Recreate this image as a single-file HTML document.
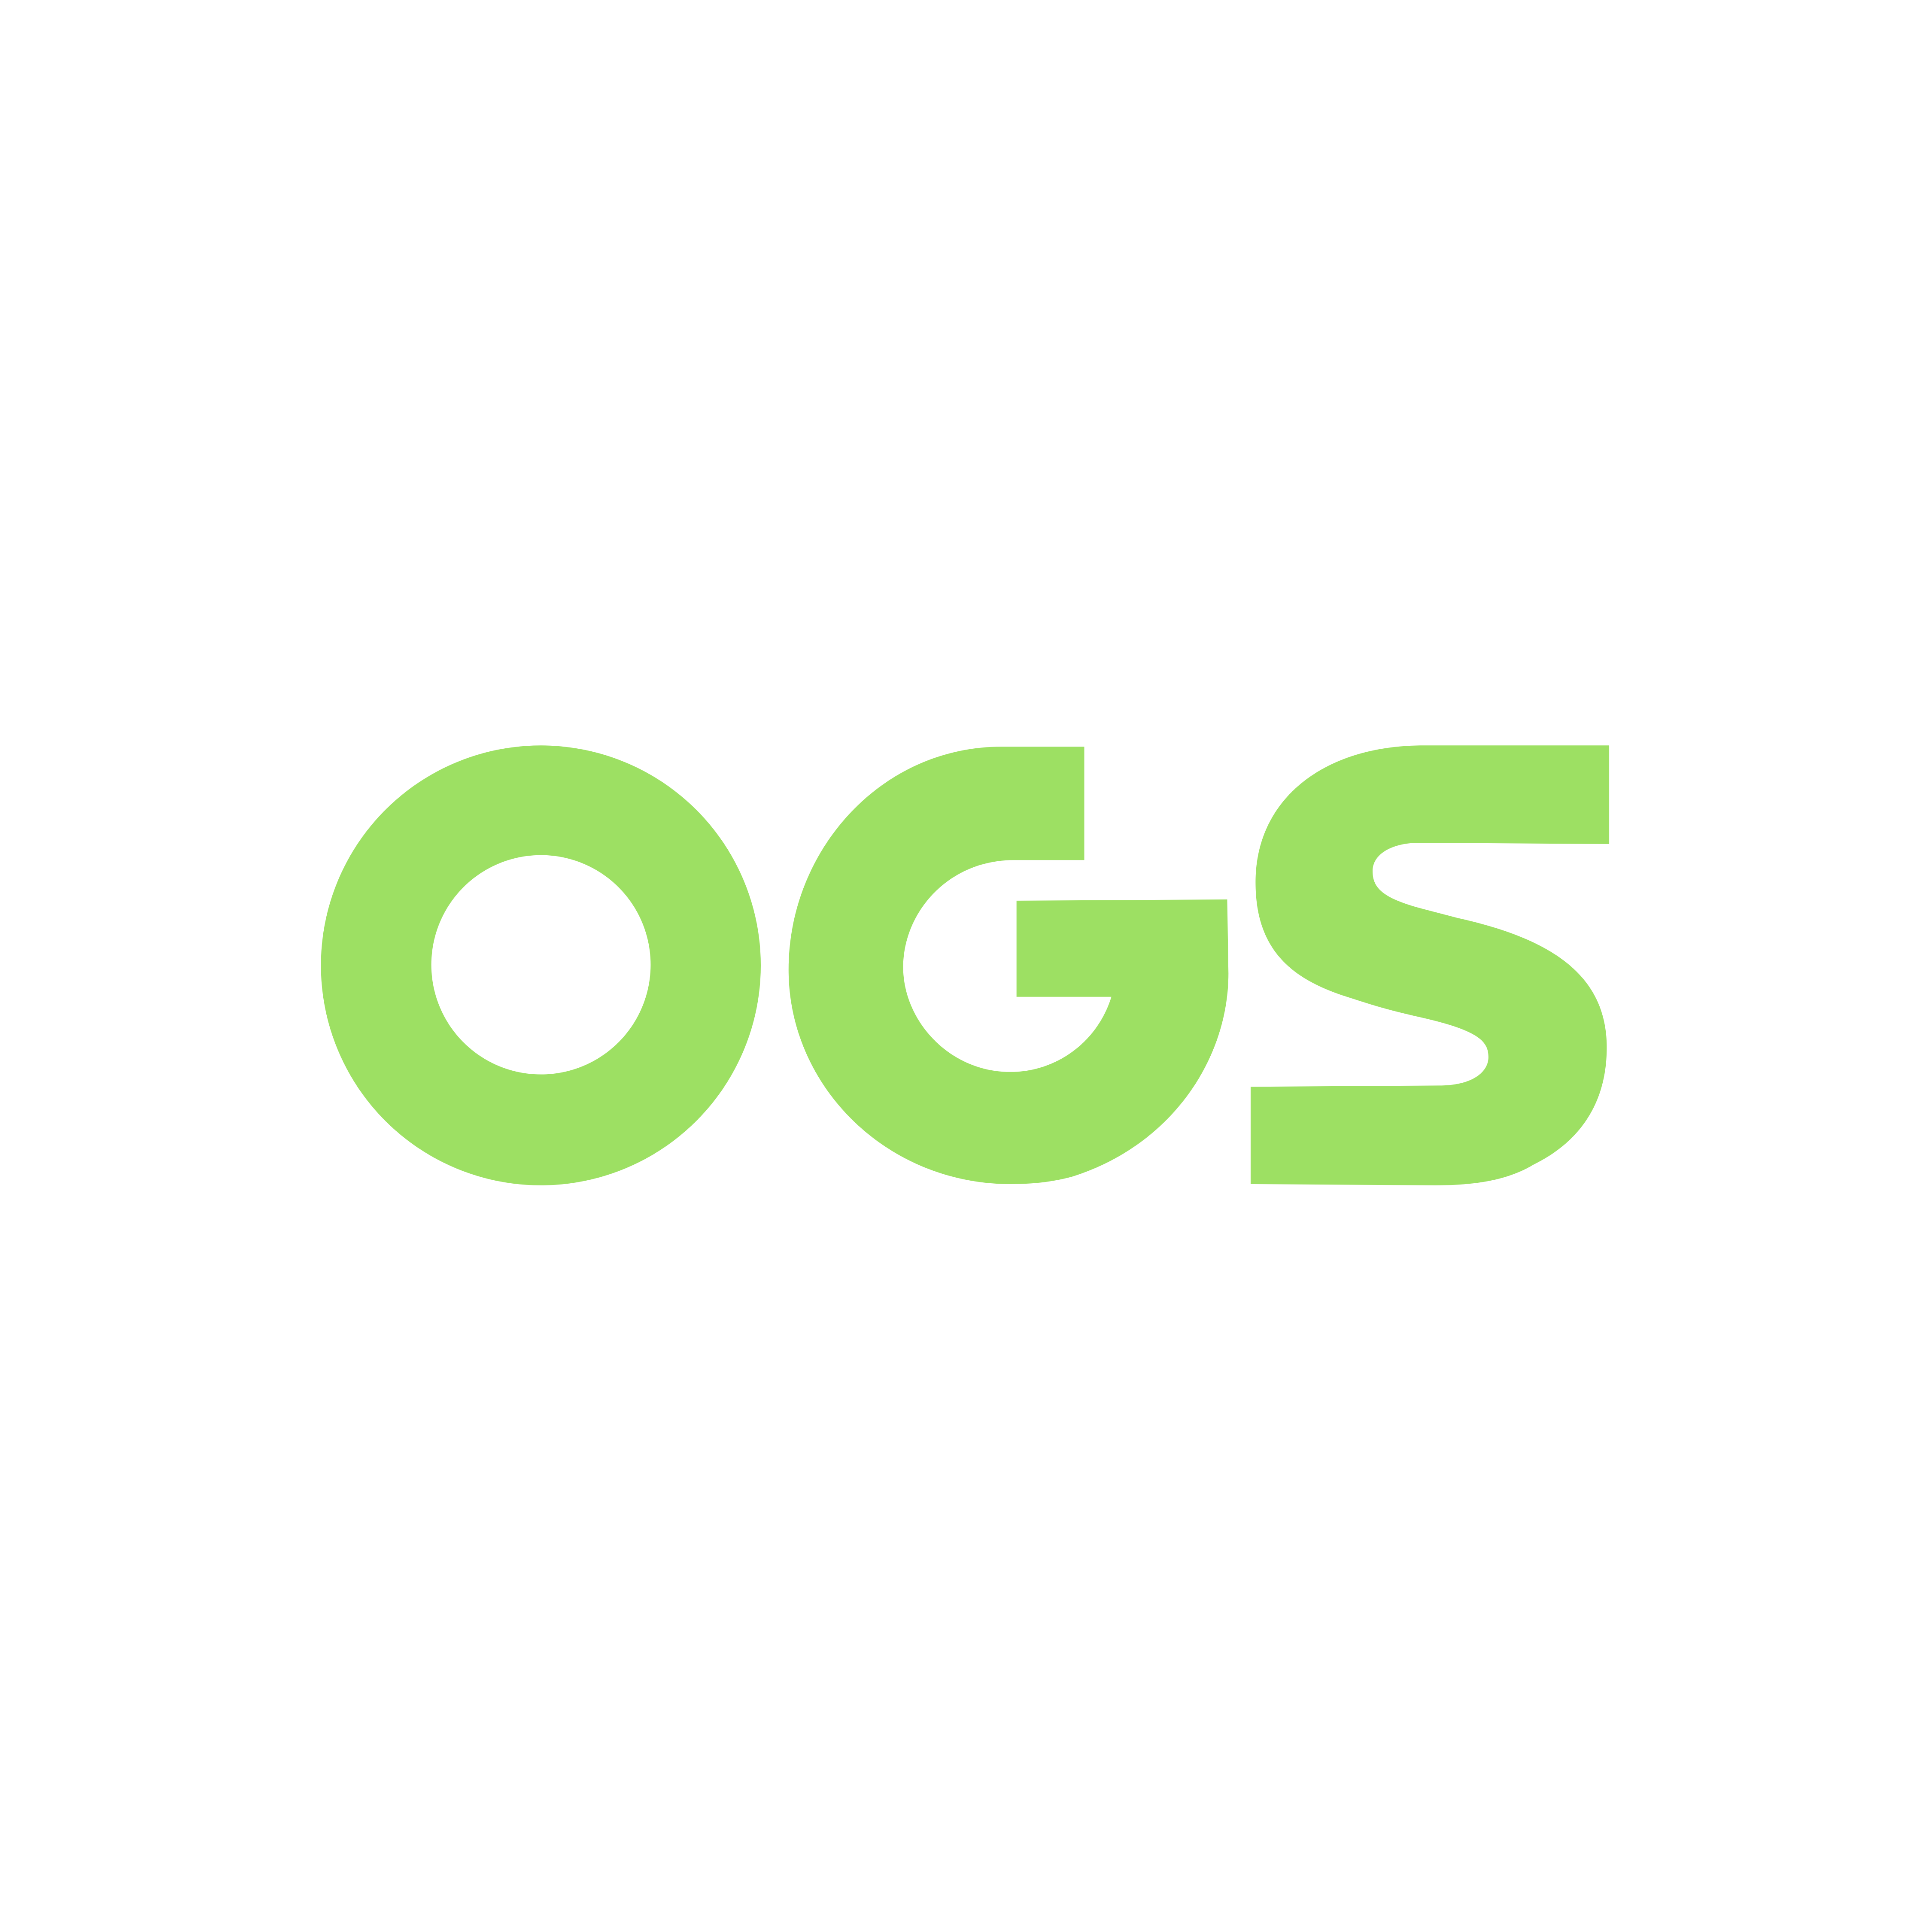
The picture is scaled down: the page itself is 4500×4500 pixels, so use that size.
<!DOCTYPE html>
<html><head><meta charset="utf-8"><style>
html,body{margin:0;padding:0;background:#fff;width:4500px;height:4500px;overflow:hidden}
svg{display:block}
.sr{position:absolute;left:-9999px;font-family:"Liberation Sans",sans-serif}
</style></head><body>
<span class="sr">OGS</span>
<svg width="4500" height="4500" viewBox="0 0 1568 1568" xmlns="http://www.w3.org/2000/svg">
<rect width="1568" height="1568" fill="#ffffff"/>
<path fill="#9de063" fill-rule="evenodd"
 d="M439,605 A178.5,178.5 0 1,1 438.9,605 Z M439,694 A89,89 0 1,0 439.1,694 Z"/>
<path fill="#9de063"
 d="M813,606 L880,606 L880,698 L823,698 C770,698 733,740 733,785 C733,828 770,870 820,870 C858,870 891,845 902,809 L825,809 L825,731 L996,730 L997,790 C997,860 950,930 870,955 C855,959 840,961 820,961 C720,961 640,882 640,787 C640,690 715,606 813,606 Z"/>
<path fill="#9de063"
 d="M1306,605 L1306,685 L1152,684 C1130,684 1114,693 1114,707 C1114,722 1124,730 1160,739 L1183,745 C1250,760 1303,786 1304,848 C1305,910 1265,935 1245,945 C1225,957 1200,962 1165,962 L1015,961 L1015,882 L1168,881 C1195,881 1208,870 1208,858 C1208,845 1200,836 1150,825 C1120,818 1112,815 1090,808 C1045,793 1019,768 1019,716 C1019,648 1075,605 1155,605 Z"/>
</svg>
</body></html>
